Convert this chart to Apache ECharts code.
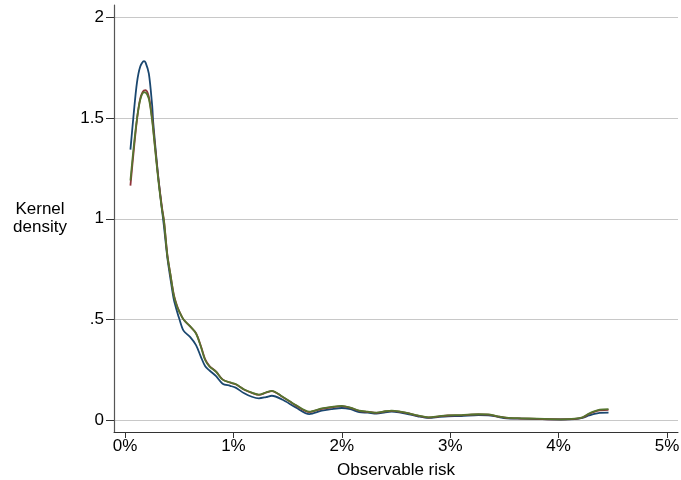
<!DOCTYPE html>
<html>
<head>
<meta charset="utf-8">
<script src="https://cdn.jsdelivr.net/npm/echarts@6/dist/echarts.min.js"></script>
<style>html,body{margin:0;padding:0;background:#fff}#c{width:681px;height:480px}</style>
</head>
<body>
<div id="c"></div>
<script>
// Observable risk (percent)
const riskX = [0.05, 0.08, 0.11, 0.14, 0.175, 0.19, 0.22, 0.25, 0.26, 0.29, 0.31, 0.34, 0.36, 0.39, 0.42, 0.45, 0.48, 0.5, 0.54, 0.6, 0.655, 0.7, 0.74, 0.78, 0.84, 0.9, 0.97, 1.02, 1.1, 1.17, 1.235, 1.3, 1.355, 1.45, 1.575, 1.7, 1.815, 1.9, 2.0, 2.08, 2.16, 2.24, 2.32, 2.4, 2.46, 2.54, 2.62, 2.7, 2.8, 2.9, 2.98, 3.1, 3.26, 3.35, 3.43, 3.52, 3.65, 3.8, 4.02, 4.15, 4.22, 4.28, 4.32, 4.38, 4.46];
const densityBlue = [1.343, 1.52, 1.675, 1.755, 1.782, 1.775, 1.72, 1.565, 1.48, 1.30, 1.19, 1.05, 0.96, 0.81, 0.70, 0.60, 0.54, 0.505, 0.445, 0.414, 0.373, 0.315, 0.268, 0.247, 0.219, 0.182, 0.171, 0.162, 0.134, 0.117, 0.109, 0.115, 0.122, 0.103, 0.064, 0.031, 0.048, 0.055, 0.061, 0.055, 0.041, 0.038, 0.033, 0.040, 0.043, 0.038, 0.030, 0.020, 0.012, 0.017, 0.020, 0.021, 0.026, 0.025, 0.018, 0.010, 0.008, 0.006, 0.004, 0.006, 0.012, 0.024, 0.031, 0.037, 0.038];
const densityRed = [1.165, 1.335, 1.49, 1.595, 1.637, 1.638, 1.605, 1.50, 1.45, 1.29, 1.19, 1.06, 0.99, 0.825, 0.72, 0.625, 0.568, 0.542, 0.50, 0.466, 0.432, 0.368, 0.302, 0.269, 0.242, 0.203, 0.187, 0.179, 0.152, 0.136, 0.126, 0.137, 0.145, 0.117, 0.074, 0.041, 0.057, 0.064, 0.070, 0.062, 0.047, 0.042, 0.037, 0.044, 0.047, 0.042, 0.034, 0.023, 0.014, 0.020, 0.024, 0.025, 0.029, 0.028, 0.020, 0.012, 0.009, 0.007, 0.005, 0.007, 0.014, 0.031, 0.041, 0.050, 0.052];
const densityGreen = [1.19, 1.355, 1.495, 1.59, 1.628, 1.627, 1.595, 1.49, 1.44, 1.28, 1.18, 1.05, 0.985, 0.82, 0.72, 0.62, 0.565, 0.54, 0.50, 0.467, 0.431, 0.365, 0.298, 0.267, 0.241, 0.202, 0.188, 0.180, 0.153, 0.137, 0.127, 0.138, 0.146, 0.118, 0.076, 0.043, 0.059, 0.066, 0.072, 0.063, 0.048, 0.043, 0.038, 0.045, 0.048, 0.043, 0.035, 0.024, 0.015, 0.021, 0.025, 0.026, 0.030, 0.029, 0.021, 0.013, 0.010, 0.008, 0.005, 0.008, 0.015, 0.033, 0.043, 0.053, 0.056];
const xTicks = [0, 1, 2, 3, 4, 5];
const xTickLabels = ['0%', '1%', '2%', '3%', '4%', '5%'];
const yTicks = [0, 0.5, 1, 1.5, 2];
const yTickLabels = ['0', '.5', '1', '1.5', '2'];

const pair = ys => riskX.map((x, i) => [x, ys[i]]);
const font = 'Liberation Sans, Arial, Helvetica, sans-serif';
const chart = echarts.init(document.getElementById('c'), null, {renderer: 'canvas'});
const mk = (name, data, color) => ({
  name, type: 'line', data: pair(data), showSymbol: false, smooth: 0.3,
  lineStyle: {color, width: 1.8}, itemStyle: {color}, animation: false, z: 3
});
chart.setOption({
  animation: false,
  backgroundColor: '#fff',
  grid: {left: 114, right: 3, top: 5, bottom: 48, containLabel: false, outerBoundsMode: 'none'},
  xAxis: {
    type: 'value', min: -0.1015, max: 5.101, position: 'bottom',
    name: 'Observable risk', nameLocation: 'middle', nameGap: 30,
    nameTextStyle: {color: '#000', fontSize: 17, fontFamily: font},
    axisLine: {show: true, onZero: false, lineStyle: {color: '#333', width: 1}},
    axisTick: {show: true, inside: false, customValues: xTicks, length: 6, lineStyle: {color: '#333'}},
    axisLabel: {customValues: xTicks, color: '#000', fontSize: 17, fontFamily: font, margin: 6,
      formatter: v => xTickLabels[xTicks.indexOf(v)] ?? ''},
    splitLine: {show: false}
  },
  yAxis: {
    type: 'value', min: -0.058, max: 2.061, position: 'left',
    name: 'Kernel\ndensity', nameLocation: 'middle', nameGap: 74, nameRotate: 0,
    nameTextStyle: {color: '#000', fontSize: 17, fontFamily: font, align: 'center', lineHeight: 18},
    axisLine: {show: true, onZero: false, lineStyle: {color: '#555', width: 1.2}},
    axisTick: {show: true, inside: false, customValues: yTicks, length: 8, lineStyle: {color: '#333'}},
    axisLabel: {customValues: yTicks, color: '#000', fontSize: 17, fontFamily: font, margin: 10,
      formatter: v => yTickLabels[yTicks.indexOf(v)] ?? ''},
    splitLine: {show: true, lineStyle: {color: '#c8c8c8', width: 1}}
  },
  series: [
    mk('Blue', densityBlue, '#1a476f'),
    mk('Red', densityRed, '#90353b'),
    mk('Green', densityGreen, '#55752f')
  ]
});
</script>
</body>
</html>
